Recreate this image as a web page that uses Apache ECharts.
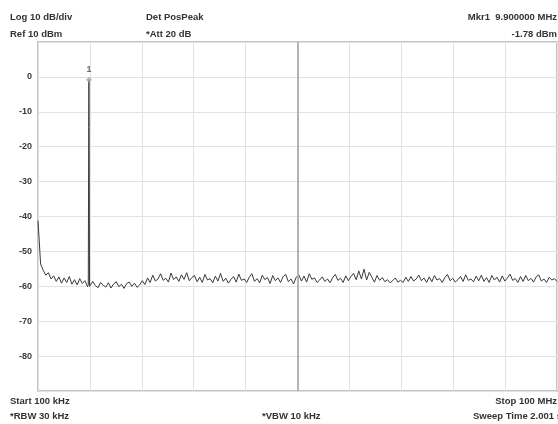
<!DOCTYPE html>
<html><head><meta charset="utf-8">
<script src="https://cdn.jsdelivr.net/npm/echarts@6/dist/echarts.min.js"></script>
<style>html,body{margin:0;padding:0;background:#fff}#c{width:558px;height:424px}</style>
</head><body><div id="c"></div>
<script>
// Sweep definition (MHz)
var startMHz = 0.1, stopMHz = 100;
// Trace levels (dBm) at evenly spaced sweep points from start to stop
var traceLevels = [
-41.2,-53.6,-55.4,-56.8,-56.1,-57.9,-57.0,-58.6,-57.3,-59.1,
-57.6,-58.9,-57.2,-59.4,-58.1,-59.6,-57.8,-59.2,-58.4,-60.1,
-60.3,-58.6,-59.8,-60.4,-58.9,-59.7,-60.2,-59.0,-60.5,-59.3,
-58.7,-60.1,-59.4,-60.6,-59.2,-58.8,-60.0,-59.1,-60.3,-59.6,
-58.4,-59.5,-57.6,-58.9,-56.8,-58.5,-57.9,-56.4,-58.3,-57.7,
-58.8,-56.2,-58.1,-57.3,-58.6,-56.7,-58.0,-56.1,-58.4,-57.5,
-56.9,-58.7,-57.4,-58.9,-56.6,-58.2,-57.8,-59.0,-57.1,-58.5,
-56.3,-58.6,-57.7,-59.1,-58.0,-57.2,-58.8,-56.5,-58.3,-57.9,
-58.9,-57.4,-56.4,-58.6,-57.8,-59.0,-56.8,-58.1,-57.5,-59.2,
-56.9,-58.4,-57.6,-58.9,-57.2,-56.6,-58.7,-57.9,-59.3,-57.4,
-56.7,-58.5,-57.1,-58.8,-56.4,-58.0,-57.6,-58.9,-58.2,-57.3,
-58.6,-57.9,-59.0,-57.5,-56.6,-58.3,-57.7,-58.9,-57.0,-58.4,
-57.2,-56.3,-58.1,-55.6,-57.9,-55.1,-58.2,-56.0,-57.4,-58.8,
-56.9,-58.3,-57.5,-58.7,-58.1,-59.0,-58.4,-57.6,-58.8,-58.3,
-58.9,-57.4,-58.6,-57.2,-58.5,-57.9,-56.8,-58.4,-57.6,-58.9,
-57.3,-58.7,-56.9,-58.2,-57.8,-58.9,-57.5,-56.6,-58.4,-57.7,
-58.8,-58.1,-57.2,-58.6,-56.7,-58.3,-57.9,-58.7,-57.1,-58.4,
-56.8,-58.6,-57.5,-58.9,-56.9,-58.2,-57.4,-58.8,-57.0,-58.5,
-57.6,-56.5,-58.3,-57.8,-58.9,-57.2,-58.6,-56.9,-58.4,-57.7,
-58.8,-57.3,-56.7,-58.5,-57.9,-58.9,-57.4,-58.2,-57.8,-58.6
];
// Carrier peak (MHz, dBm)
var peakFreqs  = [9.78, 9.86, 9.90, 9.94, 10.02];
var peakLevels = [-59.5, -14.5, -0.8, -14.5, -60.0];
// Marker (position as drawn; readout text separate)
var markerFreq = 9.9, markerLevel = -0.8, markerLabel = '1';
var centerMHz = 50.05;
// Y ticks
var yMin = -90, yMax = 10, yStep = 10;

var pts = [];
var n = traceLevels.length;
for (var i = 0; i < n; i++) {
  pts.push([startMHz + i * (stopMHz - startMHz) / (n - 1), traceLevels[i]]);
}
for (var j = 0; j < peakFreqs.length; j++) pts.push([peakFreqs[j], peakLevels[j]]);
pts.sort(function(a,b){return a[0]-b[0];});

var FONT = '"Liberation Sans", Arial, sans-serif';
var txt = function(x, y, s, align){
  return {type:'text', left: align==='right'?undefined:x, right: align==='right'?x:undefined, top: y,
    style:{text:s, font:'bold 9.5px ' + FONT, fill:'#333'}};
};

var chart = echarts.init(document.getElementById('c'), null, {renderer:'canvas'});
chart.setOption({
  animation:false,
  backgroundColor:'#fff',
  grid:{left:38, right:1, top:42, bottom:33, show:true, borderColor:'#c4c4c4', borderWidth:2, backgroundColor:'transparent'},
  xAxis:{type:'value', min:startMHz, max:stopMHz, interval:(stopMHz-startMHz)/10,
    axisLabel:{show:false}, axisTick:{show:false}, axisLine:{show:false},
    splitLine:{show:true, lineStyle:{color:'#e2e2e2', width:1}}},
  yAxis:{type:'value', min:yMin, max:yMax, interval:yStep,
    axisLabel:{fontSize:9, fontWeight:'bold', color:'#3a3a3a', fontFamily:FONT, margin:6,
      formatter:function(v){return (v===yMax||v===yMin)?'':String(v);}},
    axisTick:{show:false}, axisLine:{show:false},
    splitLine:{show:true, lineStyle:{color:'#e2e2e2', width:1}}},
  series:[
    {type:'line', data:pts, showSymbol:false, symbol:'none',
     lineStyle:{color:'#3a3a3a', width:1}, z:3,
     markLine:{silent:true, symbol:'none', label:{show:false},
       lineStyle:{color:'#b4b4b4', width:2, type:'solid'},
       data:[{xAxis:centerMHz}]}},
    {type:'scatter', data:[[markerFreq, markerLevel]], symbol:'diamond', symbolSize:6,
     itemStyle:{color:'#a8a8a8'}, z:4,
     label:{show:true, position:'top', distance:3, formatter:markerLabel,
       fontSize:9, fontWeight:'bold', color:'#444', fontFamily:FONT}}
  ],
  graphic:[
    txt(10, 12, 'Log 10 dB/div'),
    txt(10, 29, 'Ref 10 dBm'),
    txt(146, 12, 'Det PosPeak'),
    txt(146, 29, '*Att 20 dB'),
    txt(1, 12, 'Mkr1  9.900000 MHz', 'right'),
    txt(1, 29, '-1.78 dBm', 'right'),
    txt(10, 396, 'Start 100 kHz'),
    txt(10, 411, '*RBW 30 kHz'),
    txt(262, 411, '*VBW 10 kHz'),
    txt(1, 396, 'Stop 100 MHz', 'right'),
    txt(-4, 411, 'Sweep Time 2.001 s', 'right')
  ]
});
</script></body></html>
